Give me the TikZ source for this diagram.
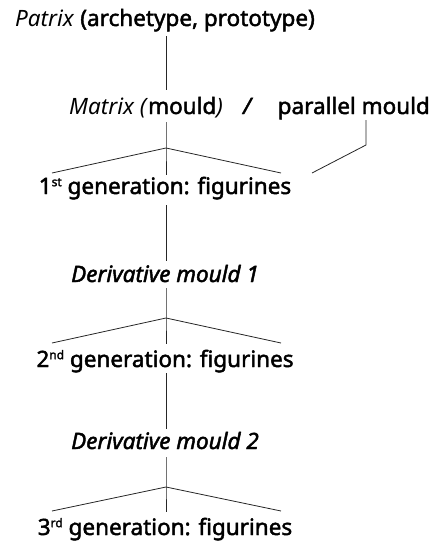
\documentclass[tikz,border=0pt]{standalone}
\usepackage{fontspec}
\setmainfont{Noto Sans}[BoldFeatures={FakeBold=2},BoldItalicFeatures={FakeBold=2}]
\newfontfamily\semib{Noto Sans}[FakeBold=2]
\newcommand{\sups}[1]{\raisebox{0.65ex}{\fontsize{12}{13}\selectfont #1}}
\begin{document}
\begin{tikzpicture}[x=1pt,y=-1pt,
  txt/.style={inner sep=0pt,anchor=base,font=\fontsize{22.5}{26}\selectfont},
  ln/.style={line width=0.8pt,color=black!85}]
\useasboundingbox (0,0) rectangle (437,541);
\node[txt] (patrix) at (165,26) {\textit{Patrix} {\semib (archetype, prototype)}};
\node[txt,anchor=base west] (matrix) at (69,114) {\textit{Matrix (}{\semib mould}\textit{)}};
\node[txt] (slash) at (248,114) {\textbf{\textit{/}}};
\node[txt,anchor=base east] (parallel) at (430,114) {\semib parallel mould};
\node[txt] (gen1) at (165,194) {\semib 1\sups{st} generation: figurines};
\node[txt] (der1) at (165,282) {\textbf{\textit{Derivative mould 1}}};
\node[txt] (gen2) at (165,367) {\semib 2\sups{nd} generation: figurines};
\node[txt] (der2) at (165,449) {\textbf{\textit{Derivative mould 2}}};
\node[txt] (gen3) at (165,535) {\semib 3\sups{rd} generation: figurines};
% stage 1
\coordinate (a1) at (166,36); \coordinate (a2) at (166,90);
\draw[ln] (a1) -- (a2);
\coordinate (b1) at (166,122); \coordinate (j1) at (166,148);
\coordinate (l1) at (52,173); \coordinate (r1) at (281,173); \coordinate (c1) at (166,175);
\draw[ln] (b1) -- (j1) -- (c1);
\draw[ln] (l1) -- (j1) -- (r1);
\coordinate (p1) at (366,120); \coordinate (p2) at (366,145); \coordinate (p3) at (312,173);
\draw[ln] (p1) -- (p2) -- (p3);
% stage 2
\coordinate (d1) at (166,205); \coordinate (d2) at (166,261);
\draw[ln] (d1) -- (d2);
\coordinate (e1) at (166,288); \coordinate (j2) at (166,318);
\coordinate (l2) at (52,343); \coordinate (r2) at (281,343); \coordinate (c2) at (166,344);
\draw[ln] (e1) -- (j2) -- (c2);
\draw[ln] (l2) -- (j2) -- (r2);
% stage 3
\coordinate (f1) at (166,373); \coordinate (f2) at (166,429);
\draw[ln] (f1) -- (f2);
\coordinate (g1) at (166,457); \coordinate (j3) at (166,487);
\coordinate (l3) at (52,511); \coordinate (r3) at (281,511); \coordinate (c3) at (166,512);
\draw[ln] (g1) -- (j3) -- (c3);
\draw[ln] (l3) -- (j3) -- (r3);
\end{tikzpicture}
\end{document}
